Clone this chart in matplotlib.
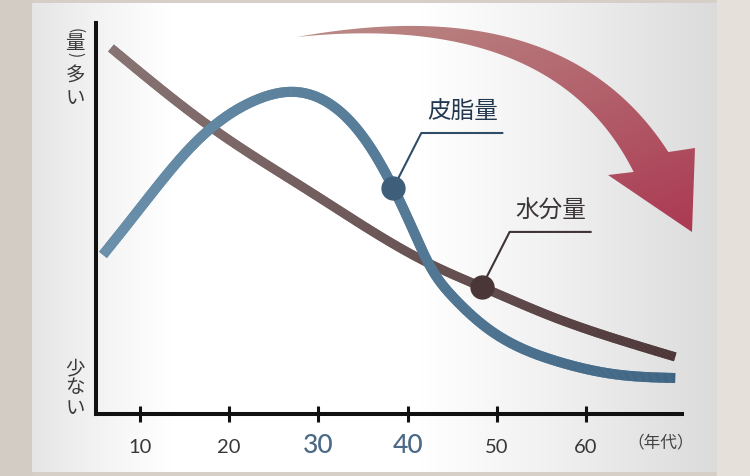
import numpy as np
import matplotlib
matplotlib.use("Agg")
import matplotlib.pyplot as plt
from matplotlib.collections import LineCollection
from matplotlib.patches import Polygon, Rectangle
import matplotlib.transforms as mtrans

# ---------------- data ----------------
ages_water = [6.75, 18.1, 29.1, 42.5, 48.3, 56.3, 63.8, 70.0]
water = [93.6, 73.1, 56.8, 38.4, 32.5, 24.8, 18.9, 14.6]

ages_sebum = [5.85, 8.1, 11.9, 15.6, 19.3, 23.1, 27.0, 31.3, 35.8, 38.4, 40.6,
              42.5, 45.1, 48.9, 56.3, 63.8, 70.0]
sebum = [40.7, 47.1, 58.1, 68.0, 75.5, 80.4, 82.4, 79.3, 68.3, 57.8, 47.1,
         37.9, 29.9, 22.0, 13.8, 10.0, 9.2]

tick_ages = [10, 20, 30, 40, 50, 60]
tick_labels = ["10", "20", "30", "40", "50", "60"]
highlight_labels = ["30", "40"]

sebum_marker = (38.4, 57.8)
water_marker = (48.3, 32.5)
sebum_name = "皮脂量"
water_name = "水分量"
x_unit = "（年代）"
y_top = ["(", "量", ")", "多", "い"]
y_bottom = ["少", "な", "い"]

JP = ["Noto Sans CJK JP", "DejaVu Sans"]
NUM = ["Lato", "Noto Sans CJK JP", "DejaVu Sans"]


def natural_spline(x, y, n=500):
    x = np.asarray(x, float)
    y = np.asarray(y, float)
    N = len(x)
    h = np.diff(x)
    A = np.zeros((N, N))
    r = np.zeros(N)
    A[0, 0] = 1
    A[-1, -1] = 1
    for i in range(1, N - 1):
        A[i, i - 1] = h[i - 1]
        A[i, i] = 2 * (h[i - 1] + h[i])
        A[i, i + 1] = h[i]
        r[i] = 6 * ((y[i + 1] - y[i]) / h[i] - (y[i] - y[i - 1]) / h[i - 1])
    M = np.linalg.solve(A, r)
    xs = np.linspace(x[0], x[-1], n)
    idx = np.clip(np.searchsorted(x, xs) - 1, 0, N - 2)
    x0, x1 = x[idx], x[idx + 1]
    hh = x1 - x0
    a = (x1 - xs) / hh
    b = (xs - x0) / hh
    ys = (a * y[idx] + b * y[idx + 1]
          + ((a ** 3 - a) * M[idx] + (b ** 3 - b) * M[idx + 1]) * hh ** 2 / 6)
    return xs, ys


def gradient_line(ax, x, y, c0, c1, lw, z):
    pts = np.column_stack([x, y])
    segs = np.stack([pts[:-1], pts[1:]], axis=1)
    t = np.linspace(0, 1, len(segs))[:, None]
    c0 = np.array(matplotlib.colors.to_rgb(c0))
    c1 = np.array(matplotlib.colors.to_rgb(c1))
    cols = c0 * (1 - t) + c1 * t
    mid = (c0 + c1) / 2
    ax.plot(x, y, color=mid, lw=lw, solid_capstyle="butt", zorder=z)
    lc = LineCollection(segs, colors=cols, linewidths=lw, capstyle="butt",
                        zorder=z + 0.1)
    ax.add_collection(lc)


# ---------------- figure & background ----------------
W, H = 750, 476
fig = plt.figure(figsize=(W / 100, H / 100), dpi=100)
fig.patch.set_facecolor("#d6cfc8")

bg = fig.add_axes([0, 0, 1, 1], zorder=0)
bg.axis("off")
bg.add_patch(Rectangle((717, 0), 33, H, color="#e5e0da", zorder=0))
bg.add_patch(Rectangle((0, 0), 32, H, color="#d3ccc5", zorder=0))

# panel horizontal gradient
px = np.linspace(32, 717, 400)
prof = np.interp(px, [32, 100, 170, 420, 560, 717], [0.90, 0.955, 1.0, 1.0, 0.94, 0.86])
img = np.repeat(prof[None, :, None], 3, axis=2)
bg.imshow(img, extent=(32, 717, 472, 3), aspect="auto", interpolation="bilinear", zorder=1)

# big curved arrow (decoration)
P0 = np.array([297.0, 37.0])
P1 = np.array([558.0, 0.0])
P2 = np.array([651.0, 162.0])
tt = np.linspace(0, 1, 120)[:, None]
C = (1 - tt) ** 2 * P0 + 2 * tt * (1 - tt) * P1 + tt ** 2 * P2
D = 2 * (1 - tt) * (P1 - P0) + 2 * tt * (P2 - P1)
D = D / np.linalg.norm(D, axis=1, keepdims=True)
Nrm = np.column_stack([D[:, 1], -D[:, 0]])
wdt = 40 * tt[:, 0] / 2
outer = C + Nrm * wdt[:, None]
inner = C - Nrm * wdt[:, None]
poly = np.vstack([outer, [[695, 148], [692, 232], [608, 175]], inner[::-1]])
arrow_patch = Polygon(poly, closed=True, facecolor="none", edgecolor="none", zorder=2)
bg.add_patch(arrow_patch)
gx, gy = np.meshgrid(np.linspace(290, 700, 200), np.linspace(20, 240, 120))
s = np.clip(0.45 * (gx - 297) / 400 + 0.55 * (gy - 25) / 210, 0, 1)[..., None]
c0 = np.array([0.73, 0.55, 0.53])
c1 = np.array([0.67, 0.22, 0.32])
gimg = c0 * (1 - s) + c1 * s
im = bg.imshow(gimg, extent=(290, 700, 240, 20), aspect="auto", zorder=2,
               interpolation="bilinear")
im.set_clip_path(arrow_patch)

bg.set_xlim(0, W)
bg.set_ylim(H, 0)

# ---------------- data axes ----------------
x_left_px, x_right_px, y_bot_px, y_top_px = 96, 682, 414, 23
ax = fig.add_axes([x_left_px / W, (H - y_bot_px) / H,
                   (x_right_px - x_left_px) / W, (y_bot_px - y_top_px) / H], zorder=2)
ax.set_facecolor("none")
ax.set_xlim(10 + (x_left_px - 140) / 8.92, 10 + (x_right_px - 140) / 8.92)
ax.set_ylim(0, 100)
for sp in ["top", "right"]:
    ax.spines[sp].set_visible(False)
for sp in ["left", "bottom"]:
    ax.spines[sp].set_linewidth(2.9)
    ax.spines[sp].set_color("#111111")
ax.set_yticks([])
ax.set_xticks(tick_ages)
ax.set_xticklabels([""] * len(tick_ages))
ax.tick_params(axis="x", direction="inout", length=11, width=2.2, color="#111111")

xw, yw = natural_spline(ages_water, water)
xs, ys = natural_spline(ages_sebum, sebum)
gradient_line(ax, xw, yw, "#8d7878", "#4a3436", 6.5, 3)
gradient_line(ax, xs, ys, "#6c92ad", "#3f6482", 7.2, 4)

ax.plot(*sebum_marker, "o", ms=16.5, color="#3e5e7a", zorder=6)
ax.plot(*water_marker, "o", ms=16.5, color="#4a3537", zorder=6)

btrans = mtrans.blended_transform_factory(ax.transData, ax.transAxes)
for a, lab in zip(tick_ages, tick_labels):
    big = lab in highlight_labels
    ax.text(a, (y_bot_px - 453) / (y_bot_px - y_top_px), lab, transform=btrans,
            ha="center", va="baseline", family=NUM,
            fontsize=19 if big else 14.5, color="#4a6986" if big else "#383838",
            fontweight="medium" if big else "normal")
ax.text((661 - x_left_px) / (x_right_px - x_left_px),
        (y_bot_px - 443) / (y_bot_px - y_top_px), x_unit, transform=ax.transAxes,
        ha="center", va="center", family=JP, fontsize=12, color="#444444")


# ---------------- callouts ----------------
def to_px(pt):
    return bg.transData.inverted().transform(ax.transData.transform(pt))


for mk, name, lc_, tc in [(sebum_marker, sebum_name, "#2f4d66", "#22384f"),
                          (water_marker, water_name, "#3e3333", "#3a3434")]:
    mx, my = to_px(mk)
    bg.plot([mx, mx + 28, mx + 110], [my, my - 55, my - 55], color=lc_, lw=1.5,
            zorder=3, solid_capstyle="butt")
    bg.text(mx + 69, my - 76, name, ha="center", va="center", family=JP,
            fontsize=17, color=tc, zorder=3)

# vertical y-axis labels
for ch, yc in zip(y_top, [31, 43, 55, 76, 98]):
    rot = -90 if ch in "()" else 0
    bg.text(75, yc, ch, ha="center", va="center", family=JP,
            fontsize=11 if ch in "()" else 14, rotation=rot, color="#3a3a3a", zorder=3)
for ch, yc in zip(y_bottom, [369, 388, 409]):
    bg.text(75, yc, ch, ha="center", va="center", family=JP, fontsize=14,
            color="#3a3a3a", zorder=3)

fig.savefig("out.png", dpi=100, facecolor=fig.get_facecolor())
